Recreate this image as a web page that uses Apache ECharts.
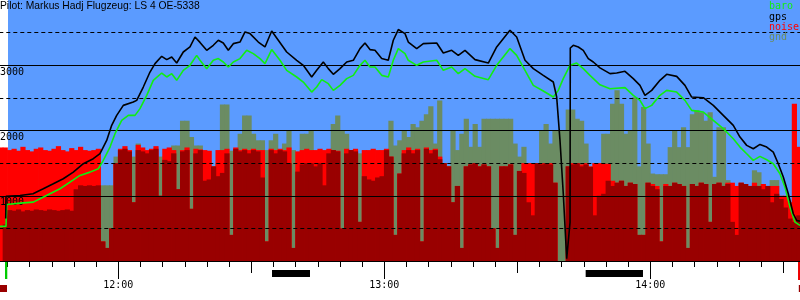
<!DOCTYPE html>
<html><head><meta charset="utf-8">
<script src="https://cdn.jsdelivr.net/npm/echarts@6/dist/echarts.min.js"></script>
<style>html,body{margin:0;padding:0;background:#fff}#c{width:800px;height:300px}</style>
</head><body><div id="c"></div><script>
// ---------- DATA ----------
const titleText = 'Pilot: Markus Hadj Flugzeug: LS 4 OE-5338';
const seriesNames = ['baro', 'gps', 'noise', 'gnd'];
const barStart = 693; // minute of day of the first 1-minute bin (11:33)

const gnd = [590,590,
600,600,600,600,600,600,600,600,600,600,
600,600,600,600,600,600,600,600,600,600,600,
1160,1160,1160,
1600,1600,1600,1600,1600,
1800,
1600,1600,1600,1600,1600,1600,1600,
1770,1770,2150,2150,1900,1770,1770,
1450,1450,1450,1500,2400,2400,1690,1700,1950,2230,2230,1950,1850,1850,
1700,1850,1950,1700,1800,2000,1700,1400,1950,1950,
2000,1600,1600,1550,1700,2100,2230,2000,1950,1700,
1700,1650,1500,1500,1500,1500,1500,1650,2150,1770,
1850,2000,1900,2100,2050,2150,2250,2370,1800,2460,
1460,1460,2000,1700,1950,2180,1750,2100,1750,2180,
2180,2180,2180,2180,2180,2180,1800,1600,1750,1500,
1500,1500,2000,2100,1800,2000,2000,2000,2320,2320,
2180,2150,1800,1450,1450,1500,1950,1950,2410,2615,
2410,1950,2000,2510,1450,2360,1800,1340,1330,1330,
1330,1745,2000,1745,2050,1745,2250,2310,2280,2150,
2280,1290,2050,2050,1240,820,1000,1050,1000,950,
1390,1360,1150,1150,1240,1240,900,800,700,620,620];

const noise = [1740,1740,1700,1720,1690,1750,1700,1680,1720,1740,
1700,1690,1720,1760,1700,1680,1730,1700,1750,1700,
1690,1700,1720,300,200,500,1500,1720,1760,1700,
900,1780,1740,1700,1720,1760,1000,1720,1740,1700,
1100,1700,1740,800,1720,1710,1700,1690,1450,1700,
1700,1720,400,1740,1700,1720,1700,1720,1700,1700,
300,1720,1700,1720,1700,1740,200,1680,1700,1720,
1700,1700,1720,1700,1720,1700,1690,500,1720,1700,
1720,600,1700,1700,1720,1700,1700,1720,1600,400,
1340,1700,1740,1700,1720,300,1740,1700,1720,1600,
1500,1450,900,1150,200,1450,1480,1500,1450,1480,
1450,500,200,1450,1450,1480,400,1380,1500,1500,
1500,1500,1500,1480,1500,1200,0,0,1450,1500,
1500,1480,1500,1450,1500,1500,1490,1490,1230,1200,
1230,1150,1200,1180,400,400,1200,1180,1150,300,
1180,1150,1200,1180,1150,200,1180,1150,1200,1180,
600,1180,1200,1150,1200,1200,1150,1200,1180,1150,
1200,1150,1180,1150,1150,1150,1000,1000,900,2410,1750];

const noiseLow = [0,560,780,770,790,760,780,770,790,780,
770,790,780,770,780,790,770,1100,1160,1150,
1160,1150,1160,300,200,500,1500,1700,1720,1680,
900,1700,1680,1650,1700,1720,1000,1550,1530,1650,
1100,1680,1700,800,1650,1700,1230,1250,1450,1300,
1350,1650,400,1720,1680,1700,1650,1700,1680,1280,
300,1700,1650,1700,1680,1500,200,1370,1480,1500,
1500,1450,1500,1160,1650,1700,1680,500,1650,1700,
1680,600,1300,1250,1230,1280,1300,1700,1600,400,
1340,1650,1700,1650,1700,300,1720,1650,1700,1560,
1500,1450,900,1150,200,1450,1480,1500,1450,1480,
1450,500,200,1450,1450,1480,400,1380,1350,900,
700,1500,1480,1500,1480,1200,0,0,1450,1480,
1500,1450,1480,1440,700,1000,1030,1230,1150,1200,
1230,1150,1200,1180,400,400,1200,1150,1100,300,
1150,1150,1200,1180,1150,200,1180,1150,1200,1180,
600,1180,1200,1150,1180,600,400,1200,1180,1150,
1150,1150,1100,1150,900,1030,950,820,650,600,700];

const baroTime = [693.32,694.67,694.83,697.83,700.83,702.34,704.59,706.85,709.10,711.36,713.62,715.49,716.62,718.13,719.26,720.77,722.26,723.77,724.89,726.41,727.89,729.79,730.92,732.05,733.17,734.66,736.17,737.68,738.43,739.94,741.43,742.56,743.68,744.81,745.94,747.45,748.96,750.45,751.96,753.09,754.60,756.47,757.98,760.24,761.73,763.62,764.75,765.88,767.37,768.50,770.01,771.52,773.01,774.52,775.64,776.77,777.90,779.41,780.90,782.03,783.16,783.54,784.67,785.41,787.31,788.80,791.82,793.31,795.20,796.69,798.20,800.46,803.46,805.35,808.35,809.86,811.74,813.61,815.86,818.12,819.24,820.37,821.88,823.40,824.88,826.39,828.65,830.91,834.29,836.16,837.67,838.80,840.31,842.18,843.69,845.95,847.82,849.33,851.95,854.21,856.46,858.72,860.23,861.74,863.23,864.74,866.26,867.74,869.25,870.38,871.51,872.64,873.76];
const baroAlt = [530,530,867,887,902,954,1031,1107,1209,1312,1362,1414,1542,1746,1951,2155,2232,2232,2335,2539,2769,2881,2820,2871,2769,2922,2999,3152,3076,2948,3076,3102,3050,2973,3050,3102,3229,3178,3102,3025,3240,3076,2922,2820,2743,2589,2666,2779,2718,2615,2692,2795,2845,2999,3076,2973,2973,2845,2820,3076,3255,3280,3178,3076,2999,3050,3076,2922,2973,2871,2948,2830,2779,2999,3255,3152,2922,2692,2605,2513,2615,2795,2999,3034,2948,2845,2700,2641,2657,2539,2462,2335,2385,2539,2615,2589,2462,2309,2283,2155,2028,1874,1746,1644,1542,1603,1552,1491,1338,1132,825,595,545];

const gpsTime = [694.60,694.67,697.83,700.76,703.08,705.34,707.59,709.85,712.11,714.36,715.87,717.38,718.51,719.64,721.13,723.38,724.15,725.64,727.15,728.28,729.79,730.92,732.05,733.17,734.66,736.17,737.30,738.43,739.94,741.43,742.56,743.68,744.81,745.94,747.45,748.58,749.71,751.58,753.09,754.60,756.09,757.98,760.24,761.73,763.62,764.75,766.24,767.37,768.50,770.01,771.52,773.01,774.52,775.64,776.77,777.90,779.41,780.90,782.03,783.16,783.54,784.67,785.41,787.31,788.80,791.82,793.31,795.20,796.69,798.20,800.46,803.46,805.35,808.35,809.86,811.74,813.61,815.86,818.12,818.88,819.63,820.37,821.14,821.90,821.95,822.63,823.76,824.88,826.01,827.14,828.65,830.91,832.42,834.29,836.16,837.67,838.80,840.31,842.18,843.69,845.95,847.82,849.33,851.95,854.21,856.46,858.72,860.23,861.74,863.23,864.74,866.26,867.74,868.87,870.00,871.13,872.25,873.02,873.76];
const gpsAlt = [650,990,1005,1030,1107,1184,1261,1362,1491,1568,1644,1848,2079,2232,2385,2436,2462,2666,2896,3025,3137,3086,3126,3034,3203,3280,3433,3350,3229,3306,3383,3341,3229,3331,3356,3510,3485,3356,3280,3525,3383,3203,3076,2999,2820,2922,3050,2948,2861,2948,3050,3076,3255,3341,3240,3229,3102,3076,3383,3547,3562,3485,3356,3255,3331,3341,3188,3229,3152,3229,3086,3034,3280,3536,3433,3076,2948,2845,2743,2513,1848,1031,34,595,3264,3306,3280,3229,3102,3050,2960,2871,2881,2907,2795,2692,2539,2615,2769,2861,2830,2692,2513,2503,2385,2232,2079,1899,1772,1721,1787,1746,1669,1491,1286,1031,724,621,611];

// strips under the time axis: [start minute, end minute] and kind
const markTime = [[754.67,763.24],[825.42,838.35],[694.44,694.96],[873.32,873.77],[693.2,694.9],[873.5,874.2]];
const markKind = [0,0,1,2,3,3];

// ---------- STYLE ----------
const BLUE = '#5b9bff', GND = '#6b8c63', RED = '#ff0000', DARKRED = '#990000', GREEN = '#11ee11';
const markStyles = [
  {dy: 9, h: 7, color: '#000000'},
  {dy: 1, h: 17, color: '#00cc00'},
  {dy: 1, h: 18, color: '#ee0000'},
  {dy: 24, h: 7, color: DARKRED}
];

const binPairs = arr => arr.map((v, i) => [barStart + i + 0.5, v]);
const linePairs = (t, v) => t.map((x, i) => [x, v[i]]);
function hhmm(m) { const h = Math.floor(m / 60); const mm = Math.round(m - h * 60); return h + ':' + String(mm).padStart(2, '0'); }

const chart = echarts.init(document.getElementById('c'), null, {renderer: 'canvas', width: 800, height: 300});
const BW = 5.2;
const option = {
  animation: false,
  backgroundColor: '#ffffff',
  title: {text: titleText, left: 0, top: 1, padding: 0,
    textStyle: {fontFamily: 'Liberation Sans', fontSize: 10.3, fontWeight: 'normal', color: '#000'}},
  legend: {orient: 'vertical', left: 764, top: 1.6, padding: 0, itemGap: 0, itemWidth: 0, itemHeight: 0,
    selectedMode: false, icon: 'rect',
    textStyle: {fontFamily: 'DejaVu Sans Mono', fontSize: 10, lineHeight: 10.3},
    data: [
      {name: seriesNames[0], textStyle: {color: GREEN}},
      {name: seriesNames[1], textStyle: {color: '#000'}},
      {name: seriesNames[2], textStyle: {color: RED}},
      {name: seriesNames[3], textStyle: {color: GND}}
    ]},
  grid: [
    {left: 8, right: 0, top: 0, bottom: 39, show: true, backgroundColor: BLUE, borderWidth: 0, containLabel: false, outerBoundsMode: 'none'},
    {left: -147.7, right: -5.47, top: 0, bottom: 39, show: false, containLabel: false, outerBoundsMode: 'none'}
  ],
  xAxis: [
    {gridIndex: 0, type: 'value', min: 0, max: 1, show: false},
    {gridIndex: 1, type: 'value', min: 660, max: 875, interval: 30, position: 'bottom', z: 3,
      axisLine: {show: true, onZero: false, lineStyle: {color: '#000', width: 1}},
      axisTick: {show: true, length: 12, lineStyle: {color: '#000', width: 1}},
      minorTick: {show: true, splitNumber: 6, length: 6, lineStyle: {color: '#000', width: 1}},
      axisLabel: {show: false}, splitLine: {show: false}, minorSplitLine: {show: false}},
    {gridIndex: 1, type: 'value', min: 660, max: 875, interval: 60, position: 'bottom', offset: 0, z: 3,
      axisLine: {show: false, onZero: false},
      axisTick: {show: true, length: 18, lineStyle: {color: '#000', width: 1}},
      axisLabel: {show: true, margin: 19, formatter: v => (v % 60 === 0 ? hhmm(v) : ''),
        fontFamily: 'DejaVu Sans Mono', fontSize: 10, color: '#000'},
      splitLine: {show: false}}
  ],
  yAxis: [
    {gridIndex: 0, type: 'value', min: 0, max: 1, show: false},
    {gridIndex: 1, type: 'value', min: 0, max: 4000, interval: 1000, offset: -147.7, z: 3,
      axisLine: {show: false}, axisTick: {show: false},
      axisLabel: {inside: true, margin: 0, verticalAlign: 'top', padding: [2, 0, 0, 0],
        formatter: v => (v > 0 && v < 4000 ? String(v) : ''),
        fontFamily: 'DejaVu Sans Mono', fontSize: 10, color: '#000'},
      splitLine: {show: true, showMinLine: false, showMaxLine: false, lineStyle: {color: '#000', width: 1}},
      minorTick: {show: false, splitNumber: 2},
      minorSplitLine: {show: true, lineStyle: {color: '#000', width: 1, type: [4, 3]}}}
  ],
  series: [
    {name: seriesNames[3], type: 'bar', xAxisIndex: 1, yAxisIndex: 1, data: binPairs(gnd), barWidth: BW, barGap: '-100%',
      itemStyle: {color: GND}, z: 2, silent: true, large: false},
    {name: seriesNames[2], type: 'bar', xAxisIndex: 1, yAxisIndex: 1, data: binPairs(noise), barWidth: BW, barGap: '-100%',
      itemStyle: {color: RED}, z: 2, silent: true},
    {name: 'noiseLow', type: 'bar', xAxisIndex: 1, yAxisIndex: 1, data: binPairs(noiseLow), barWidth: BW, barGap: '-100%',
      itemStyle: {color: DARKRED}, z: 2, silent: true},
    {name: seriesNames[0], type: 'line', xAxisIndex: 1, yAxisIndex: 1, data: linePairs(baroTime, baroAlt),
      showSymbol: false, symbol: 'none', lineStyle: {color: GREEN, width: 1.6}, itemStyle: {color: GREEN}, z: 5, silent: true},
    {name: seriesNames[1], type: 'line', xAxisIndex: 1, yAxisIndex: 1, data: linePairs(gpsTime, gpsAlt),
      showSymbol: false, symbol: 'none', lineStyle: {color: '#000', width: 1.6}, itemStyle: {color: '#000'}, z: 5, silent: true},
    {name: 'marks', type: 'custom', xAxisIndex: 1, yAxisIndex: 1, clip: false, silent: true, z: 6,
      data: markTime.map((t, i) => [t[0], t[1], markKind[i]]),
      encode: {x: [0, 1]},
      renderItem: (params, api) => {
        const x0 = api.coord([api.value(0), 0])[0];
        const x1 = api.coord([api.value(1), 0])[0];
        const yBase = api.coord([660, 0])[1];
        const st = markStyles[api.value(2)];
        return {type: 'rect', shape: {x: x0, y: yBase + st.dy, width: Math.max(1, x1 - x0), height: st.h}, style: {fill: st.color}};
      }}
  ]
};
chart.setOption(option);
</script></body></html>
